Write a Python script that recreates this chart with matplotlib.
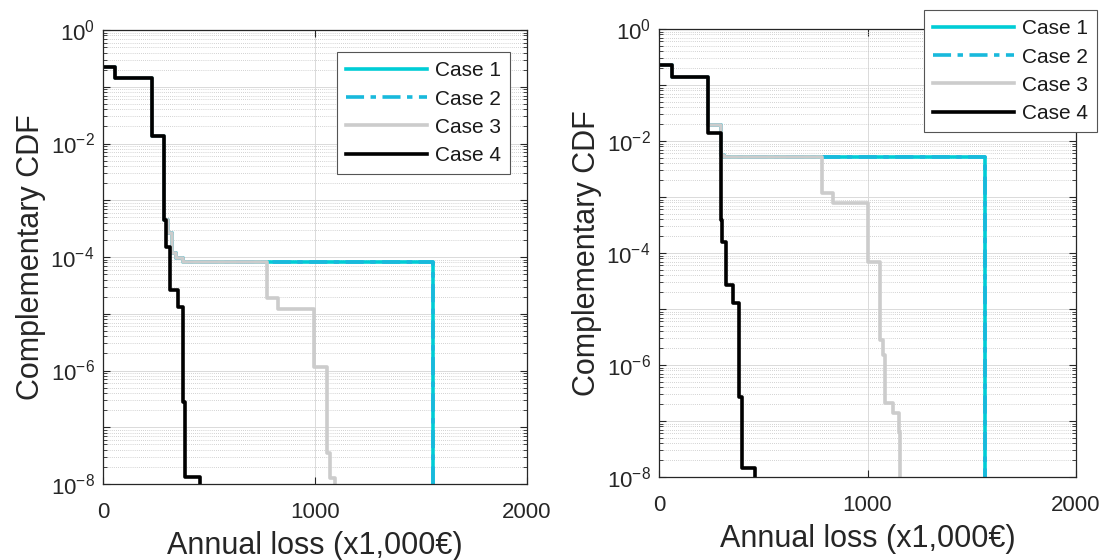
import numpy as np
import matplotlib
matplotlib.use("Agg")
import matplotlib.pyplot as plt
from matplotlib.ticker import FixedLocator, FuncFormatter, NullFormatter

plt.rcParams['font.family'] = ['Liberation Sans', 'DejaVu Sans']
plt.rcParams['mathtext.fontset'] = 'custom'
plt.rcParams['mathtext.rm'] = 'Liberation Sans'
plt.rcParams['mathtext.it'] = 'Liberation Sans'
plt.rcParams['mathtext.bf'] = 'Liberation Sans'

labels = ['Case 1', 'Case 2', 'Case 3', 'Case 4']

# ---- Left panel data (loss in x1,000 EUR, exceedance probability) ----
L_case4_x = [0, 57, 229, 288, 297, 316, 355, 378, 387, 458]
L_case4_y = [0.225, 0.144, 0.0135, 4.5e-4, 1.5e-4, 2.6e-5, 1.3e-5, 2.8e-7, 1.35e-8, 1e-9]

L_case3_x = [0, 57, 229, 288, 305, 325, 345, 377, 773, 826, 995, 1057, 1071, 1094]
L_case3_y = [0.225, 0.144, 0.0135, 4.5e-4, 2.6e-4, 1.2e-4, 9.5e-5, 8.2e-5,
             1.9e-5, 1.2e-5, 1.15e-6, 3.5e-8, 1.3e-8, 1e-9]

L_case12_x = [0, 57, 229, 288, 305, 325, 345, 377, 1557]
L_case12_y = [0.225, 0.144, 0.0135, 4.5e-4, 2.6e-4, 1.2e-4, 9.5e-5, 8.2e-5, 1e-9]

# ---- Right panel data ----
R_case4_x = [0, 61, 235, 297, 302, 321, 355, 384, 398, 460]
R_case4_y = [0.227, 0.139, 0.0139, 3.9e-4, 1.6e-4, 2.7e-5, 1.3e-5, 2.7e-7, 1.45e-8, 1e-9]

R_case3_x = [0, 61, 235, 297, 310, 782, 835, 1002, 1060, 1074, 1084, 1122, 1151, 1156]
R_case3_y = [0.227, 0.139, 0.0193, 5.6e-3, 5.2e-3, 1.17e-3, 7.8e-4, 6.9e-5,
             2.8e-6, 1.5e-6, 2.1e-7, 1.4e-7, 6.3e-8, 1e-9]

R_case12_x = [0, 61, 235, 297, 310, 1564]
R_case12_y = [0.227, 0.139, 0.0193, 5.6e-3, 5.2e-3, 1e-9]

xticks = [0, 1000, 2000]
ydecades = [0, -1, -2, -3, -4, -5, -6, -7, -8]

c1 = '#00CDD6'
c2 = '#18B9DC'
c3 = '#CCCCCC'
c4 = '#000000'
axcol = '#262626'

fig = plt.figure(figsize=(11.07, 5.60), dpi=100)
axL = fig.add_axes([103/1107, 1-484/560, (527-103)/1107, (484-30)/560])
axR = fig.add_axes([659/1107, 1-477/560, (1076-659)/1107, (477-29)/560])


def yfmt(v, pos):
    e = int(round(np.log10(v)))
    if e % 2 == 0:
        return r'$\mathregular{10^{%d}}$' % e
    return ''


def draw(ax, d12x, d12y, d3x, d3y, d4x, d4y, leg_anchor):
    lw = 2.6
    h1, = ax.step(d12x, d12y, where='post', color=c1, lw=lw, label=labels[0])
    h2, = ax.step(d12x, d12y, where='post', color=c2, lw=lw, ls=(0, (5, 1.8, 1.5, 1.8)),
                  label=labels[1])
    h3, = ax.step(d3x, d3y, where='post', color=c3, lw=lw, label=labels[2])
    h4, = ax.step(d4x, d4y, where='post', color=c4, lw=lw, label=labels[3])
    ax.set_yscale('log')
    ax.set_xlim(0, 2000)
    ax.set_ylim(1e-8, 1)
    ax.xaxis.set_major_locator(FixedLocator(xticks))
    ax.yaxis.set_major_locator(FixedLocator([10.0**e for e in ydecades]))
    ax.yaxis.set_major_formatter(FuncFormatter(yfmt))
    minors = [m * 10.0**e for e in range(-8, 0) for m in range(2, 10)]
    ax.yaxis.set_minor_locator(FixedLocator(minors))
    ax.yaxis.set_minor_formatter(NullFormatter())
    ax.tick_params(axis='both', which='both', direction='in', top=True, right=True,
                   colors=axcol, labelsize=16)
    ax.tick_params(axis='y', which='major', pad=6)
    ax.tick_params(axis='x', which='major', pad=13)
    ax.tick_params(axis='both', which='major', length=5, width=0.8)
    ax.tick_params(axis='both', which='minor', length=3, width=0.6)
    ax.tick_params(axis='x', which='minor', bottom=False, top=False)
    ax.grid(True, which='major', axis='both', color='#DADADA', lw=0.7, ls='-')
    ax.grid(True, which='minor', axis='y', color='#C4C4C4', lw=0.6, ls=(0, (1, 1.5)))
    ax.set_axisbelow(True)
    for s in ax.spines.values():
        s.set_color(axcol)
        s.set_linewidth(0.9)
    ax.set_xlabel('Annual loss (x1,000€)', fontsize=22, color=axcol, labelpad=6)
    ax.set_ylabel('Complementary CDF', fontsize=22, color=axcol, labelpad=3)
    leg = ax.legend(handles=[h1, h2, h3, h4], loc='upper right',
                    bbox_to_anchor=leg_anchor, bbox_transform=fig.transFigure,
                    fontsize=15, frameon=True, fancybox=False, framealpha=1,
                    edgecolor='#555555', handlelength=3.9, handletextpad=0.35,
                    labelspacing=0.44, borderpad=0.45, borderaxespad=0)
    leg.get_frame().set_linewidth(0.8)
    for t in leg.get_texts():
        t.set_color('#1a1a1a')
    leg.set_zorder(10)
    return leg


draw(axL, L_case12_x, L_case12_y, L_case3_x, L_case3_y, L_case4_x, L_case4_y,
     (510/1107, 1-52/560))
draw(axR, R_case12_x, R_case12_y, R_case3_x, R_case3_y, R_case4_x, R_case4_y,
     (1097/1107, 1-10/560))

fig.savefig('out.png', dpi=100)
